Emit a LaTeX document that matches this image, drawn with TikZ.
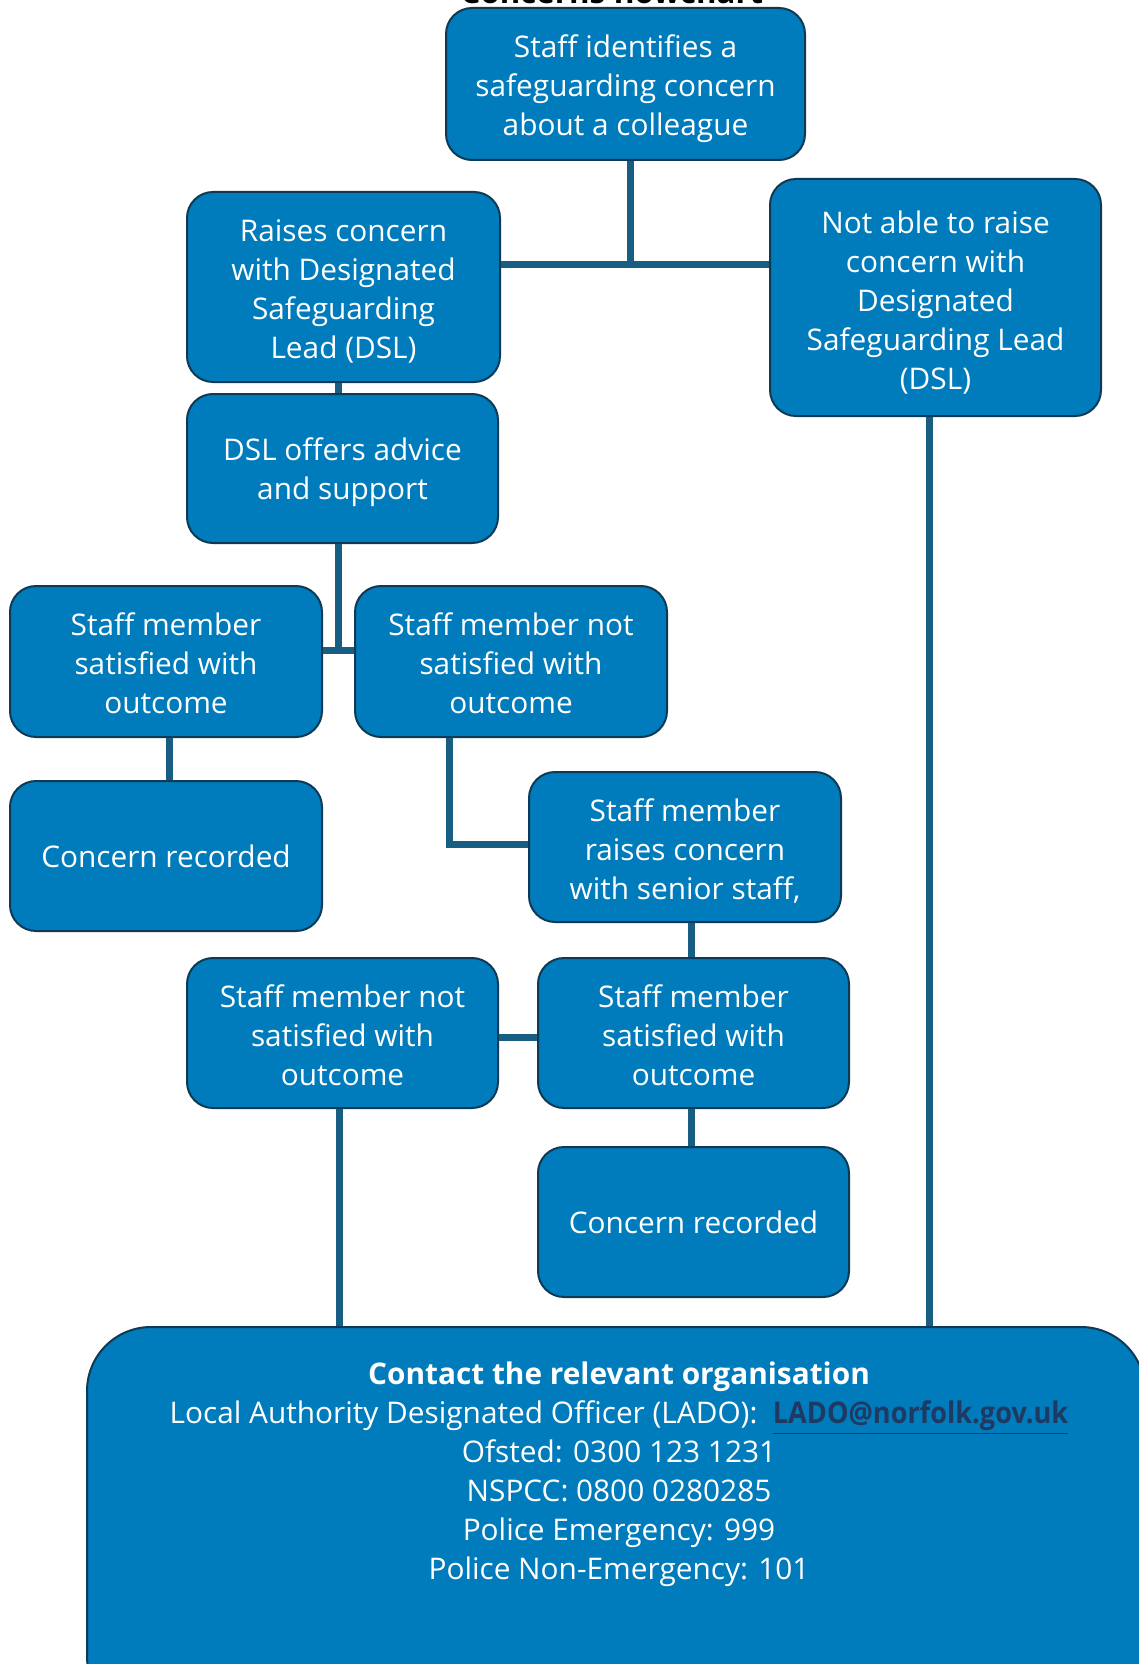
\documentclass[tikz,border=0pt]{standalone}
\usepackage{fontspec}
\usepackage{graphicx}
\setmainfont{Open Sans}
\definecolor{boxfill}{RGB}{0,123,187}
\definecolor{boxline}{RGB}{14,58,86}
\definecolor{connc}{RGB}{24,94,130}
\definecolor{linkc}{RGB}{30,58,98}
\begin{document}
\begin{tikzpicture}[x=0.5pt,y=-0.5pt,
  box/.style={draw=boxline, line width=1pt, fill=boxfill, rounded corners=13pt, inner sep=0pt},
  boxtext/.style={text=white, align=center, font=\fontsize{14.9}{19.5}\selectfont, inner sep=0pt},
  connline/.style={draw=connc, line width=3.5pt, line join=miter}]
\useasboundingbox (0,0) rectangle (1139,1664);
\fill[white] (0,0) rectangle (1139,1664);

\node[font=\bfseries\fontsize{15.6}{19}\selectfont, anchor=base] (title) at (612,4) {Concerns flowchart};

% boxes
\node[box, minimum width=179.5pt, minimum height=76pt] (top) at (625.5,84) {};
\node[box, minimum width=156.5pt, minimum height=95pt] (raises) at (343.5,287) {};
\node[box, minimum width=165.5pt, minimum height=118.5pt] (notable) at (935.5,297.5) {};
\node[box, minimum width=155.5pt, minimum height=74.5pt] (dsl) at (342.5,468.5) {};
\node[box, minimum width=156pt, minimum height=75.5pt] (satL) at (166,661.5) {};
\node[box, minimum width=156pt, minimum height=75.5pt] (notsatM) at (511,661.5) {};
\node[box, minimum width=156pt, minimum height=75pt] (recL) at (166,856) {};
\node[box, minimum width=156pt, minimum height=75pt] (senior) at (685,847) {};
\node[box, minimum width=155.5pt, minimum height=75pt] (notsatLow) at (342.5,1033) {};
\node[box, minimum width=155.5pt, minimum height=75pt] (satLow) at (693.5,1033) {};
\node[box, minimum width=155.5pt, minimum height=75pt] (recLow) at (693.5,1222) {};
\node[box, rounded corners=32pt, minimum width=529pt, minimum height=196.5pt] (contact) at (616,1523.5) {};

% box texts
\node[boxtext] (toptxt) at ([yshift=-2.4pt]top.center) {Staff identifies a\\safeguarding concern\\about a colleague};
\node[boxtext] (raisestxt) at ([yshift=-2.4pt]raises.center) {Raises concern\\with Designated\\Safeguarding\\Lead (DSL)};
\node[boxtext] (notabletxt) at ([yshift=-2.5pt]notable.center) {Not able to raise\\concern with\\Designated\\Safeguarding Lead\\(DSL)};
\node[boxtext] (dsltxt) at ([yshift=-2pt]dsl.center) {DSL offers advice\\and support};
\node[boxtext] (satLtxt) at ([yshift=-0.8pt]satL.center) {Staff member\\satisfied with\\outcome};
\node[boxtext] (notsatMtxt) at ([yshift=-0.8pt]notsatM.center) {Staff member not\\satisfied with\\outcome};
\node[boxtext] (recLtxt) at (recL.center) {Concern recorded};
\node[boxtext] (seniortxt) at ([yshift=-2.2pt]senior.center) {Staff member\\raises concern\\with senior staff,};
\node[boxtext] (notsatLowtxt) at ([yshift=-1pt]notsatLow.center) {Staff member not\\satisfied with\\outcome};
\node[boxtext] (satLowtxt) at ([yshift=-1pt]satLow.center) {Staff member\\satisfied with\\outcome};
\node[boxtext] (recLowtxt) at (recLow.center) {Concern recorded};
\node[boxtext] (contacttext) at (619,1474.5)
  {\textbf{Contact the relevant organisation}\\
   Local Authority Designated Officer (LADO):\ \ {\color{linkc}\scalebox{0.91}[1]{\bfseries\underline{LADO@norfolk.gov.uk}}}\\
   Ofsted: 0300 123 1231\\
   NSPCC: 0800 0280285\\
   Police Emergency: 999\\
   Police Non-Emergency: 101};

% connectors
\coordinate (tj) at (630,265);
\draw[connline] (tj |- top.south) -- (tj);
\draw[connline] (raises.east |- tj) -- (notable.west |- tj);
\coordinate (c1) at (338.6,0);
\draw[connline] (c1 |- raises.south) -- (c1 |- dsl.north);
\coordinate (j2) at (338,650);
\draw[connline] (j2 |- dsl.south) -- (j2);
\draw[connline] (satL.east |- j2) -- (notsatM.west |- j2);
\coordinate (c3) at (169,0);
\draw[connline] (c3 |- satL.south) -- (c3 |- recL.north);
\coordinate (j4) at (449,844);
\draw[connline] (j4 |- notsatM.south) -- (j4) -- (senior.west |- j4);
\coordinate (c5) at (691,0);
\draw[connline] (c5 |- senior.south) -- (c5 |- satLow.north);
\coordinate (c6) at (0,1037);
\draw[connline] (notsatLow.east |- c6) -- (satLow.west |- c6);
\draw[connline] (c5 |- satLow.south) -- (c5 |- recLow.north);
\coordinate (c7) at (339,0);
\draw[connline] (c7 |- notsatLow.south) -- (c7 |- contact.north);
\coordinate (c8) at (929,0);
\draw[connline] (c8 |- notable.south) -- (c8 |- contact.north);
\end{tikzpicture}
\end{document}
